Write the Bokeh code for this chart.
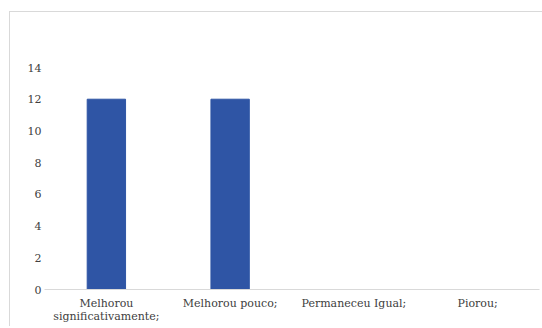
from bokeh.plotting import figure
from bokeh.embed import file_html
from bokeh.resources import INLINE

categories = ["Melhorou\nsignificativamente;", "Melhorou pouco;", "Permaneceu Igual;", "Piorou;"]
values = [12, 12, 0, 0]
y_ticks = [0, 2, 4, 6, 8, 10, 12, 14]

p = figure(x_range=categories, y_range=(0, 14), frame_width=495, frame_height=222,
           output_backend="svg", toolbar_location=None,
           min_border_left=34, min_border_right=4, min_border_top=55, min_border_bottom=30)
p.styles = {"position": "absolute", "left": "9px", "top": "11px",
            "border-left": "1px solid #d9d9d9", "border-top": "1px solid #d9d9d9"}
p.vbar(x=categories, top=values, width=0.31, color="#2F55A5")

p.outline_line_color = None
p.xgrid.grid_line_color = None
p.ygrid.grid_line_color = None
p.yaxis.ticker = y_ticks
p.yaxis.axis_line_color = None
p.yaxis.major_tick_line_color = None
p.yaxis.minor_tick_line_color = None
p.yaxis.major_tick_out = 0
p.yaxis.major_tick_in = 0
p.yaxis.major_label_standoff = 3
p.xaxis.axis_line_color = "#d9d9d9"
p.xaxis.major_tick_line_color = None
p.xaxis.major_tick_out = 0
p.xaxis.major_tick_in = 0
p.xaxis.major_label_standoff = 7
p.xaxis.major_label_text_line_height = 1.05
for ax in (p.xaxis, p.yaxis):
    ax.major_label_text_font = "DejaVu Serif"
    ax.major_label_text_font_size = "11px"
    ax.major_label_text_color = "#404040"
p.x_range.range_padding = 0

open("out.html", "w").write(file_html(p, INLINE))
